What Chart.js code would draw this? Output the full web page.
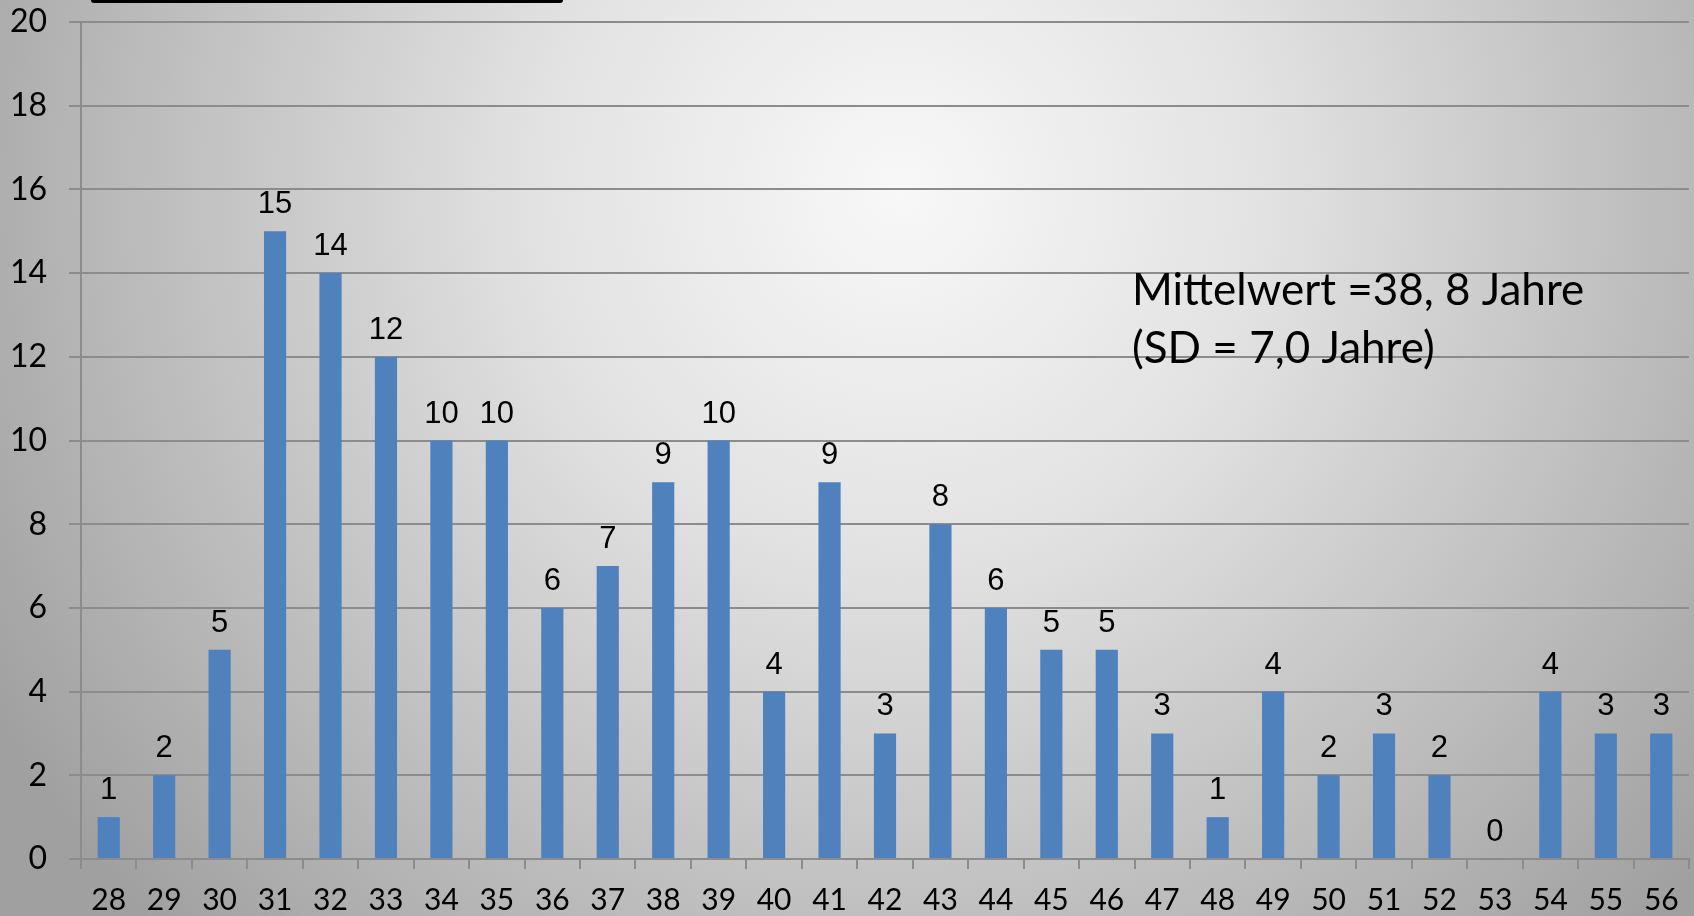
<!DOCTYPE html>
<html>
<head>
<meta charset="utf-8">
<script src="https://cdn.jsdelivr.net/npm/chart.js@4"></script>
<style>
  html, body { margin: 0; padding: 0; }
  #wrap { width: 1694px; height: 916px; position: relative; }
</style>
</head>
<body>
<div id="wrap"><canvas id="myChart"></canvas></div>
<script>
// Alter (Jahre) und Anzahl
const ages = ['28','29','30','31','32','33','34','35','36','37','38','39','40','41','42',
  '43','44','45','46','47','48','49','50','51','52','53','54','55','56'];
const counts = [1, 2, 5, 15, 14, 12, 10, 10, 6, 7, 9, 10, 4, 9, 3,
  8, 6, 5, 5, 3, 1, 4, 2, 3, 2, 0, 4, 3, 3];
const yTicks = [0, 2, 4, 6, 8, 10, 12, 14, 16, 18, 20];
const noteLines = ['Mittelwert =38, 8 Jahre', '(SD = 7,0 Jahre)'];

const ctx = document.getElementById('myChart').getContext('2d');

// hintergrund mit verlauf + schwarzer balken oben
const bgPlugin = {
  id: 'bg',
  beforeDraw(chart) {
    const c = chart.ctx;
    const g = c.createRadialGradient(900, 190, 0, 900, 190, 1050);
    g.addColorStop(0, '#f8f8f8');
    g.addColorStop(0.35, '#e2e2e2');
    g.addColorStop(1, '#a0a0a0');
    c.save();
    c.fillStyle = g;
    c.fillRect(0, 0, chart.width, chart.height);
    c.fillStyle = '#000';
    c.beginPath();
    c.roundRect(91, -5, 472, 8, 3);
    c.fill();
    c.restore();
  }
};

// zahlen über den balken + text rechts
const labelPlugin = {
  id: 'barLabels',
  afterDatasetsDraw(chart) {
    const c = chart.ctx;
    const meta = chart.getDatasetMeta(0);
    c.save();
    c.fillStyle = '#000';
    c.font = '31px "Liberation Sans", Arial, sans-serif';
    c.textAlign = 'center';
    c.textBaseline = 'alphabetic';
    meta.data.forEach((bar, i) => {
      c.fillText(String(counts[i]), bar.x, bar.y - 18);
    });
    c.font = '44px Lato, sans-serif';
    c.textAlign = 'left';
    c.fillText(noteLines[0], 1132, 305);
    c.fillText(noteLines[1], 1132, 363);
    c.restore();
  }
};

let barChart = new Chart(ctx, {
  type: 'bar',
  data: {
    labels: ages,
    datasets: [{
      label: 'Anzahl',
      data: counts,
      backgroundColor: '#4f81bd',
      borderWidth: 0,
      barPercentage: 0.4,
      categoryPercentage: 1.0
    }]
  },
  options: {
    responsive: true,
    maintainAspectRatio: false,
    animation: false,
    layout: { padding: { top: 22, right: 5, left: 0, bottom: 0 } },
    plugins: {
      legend: { display: false },
      tooltip: { enabled: false }
    },
    scales: {
      x: {
        offset: true,
        grid: {
          offset: true,
          drawOnChartArea: false,
          drawTicks: true,
          tickLength: 10,
          color: '#8c8c8c',
          lineWidth: 2
        },
        border: { color: '#8c8c8c', width: 2 },
        ticks: {
          color: '#000',
          font: { family: 'Lato', size: 30 },
          padding: 13,
          maxRotation: 0,
          autoSkip: false
        },
        afterFit(s) { s.height = 57; s.paddingLeft = 0; s.paddingRight = 0; }
      },
      y: {
        min: 0,
        max: 20,
        afterBuildTicks(s) { s.ticks = yTicks.map(v => ({ value: v })); },
        grid: {
          color: '#8c8c8c',
          lineWidth: 2,
          drawTicks: true,
          tickLength: 12
        },
        border: { color: '#8c8c8c', width: 2 },
        ticks: {
          color: '#000',
          font: { family: 'Lato', size: 32 },
          padding: 22
        },
        afterFit(s) { s.width = 81; s.paddingTop = 0; s.paddingBottom = 0; }
      }
    }
  },
  plugins: [bgPlugin, labelPlugin]
});
</script>
</body>
</html>
